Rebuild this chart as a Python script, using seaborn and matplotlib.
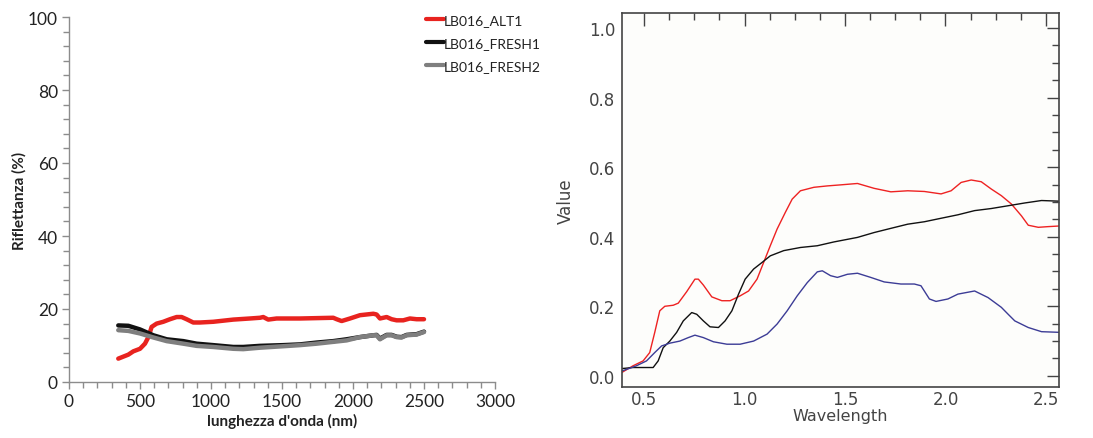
import numpy as np
import pandas as pd
import matplotlib
matplotlib.use("Agg")
import matplotlib.pyplot as plt
from matplotlib.ticker import MultipleLocator
import seaborn as sns

# ---------------- Left panel data (nm, %) ----------------
alt1_nm = [347, 418, 453, 500, 535, 559, 582, 617, 664, 711, 758, 793, 828, 875, 922, 1016,
           1157, 1274, 1345, 1368, 1403, 1462, 1626, 1861, 1885, 1920, 1979, 2049, 2143,
           2166, 2190, 2237, 2272, 2307, 2354, 2401, 2448, 2500]
alt1_pct = [6.4, 7.5, 8.4, 9.1, 10.5, 12.3, 15.1, 16.0, 16.5, 17.2, 17.8, 17.8, 17.2, 16.3, 16.3, 16.5,
            17.1, 17.4, 17.6, 17.8, 17.1, 17.4, 17.4, 17.6, 17.2, 16.7, 17.4, 18.3, 18.7,
            18.5, 17.4, 17.8, 17.2, 16.9, 16.9, 17.4, 17.2, 17.2]

fresh1_nm = [347, 418, 500, 594, 688, 805, 899, 1016, 1157, 1227, 1345, 1509, 1626, 1744,
             1861, 1955, 2049, 2143, 2166, 2190, 2237, 2272, 2307, 2342, 2378, 2448, 2500]
fresh1_pct = [15.5, 15.4, 14.4, 12.8, 11.7, 11.2, 10.5, 10.1, 9.6, 9.6, 9.9, 10.1, 10.3, 10.8,
              11.2, 11.7, 12.3, 12.8, 12.9, 11.9, 12.9, 12.9, 12.4, 12.3, 12.9, 13.1, 13.8]

fresh2_nm = [347, 418, 500, 594, 688, 805, 899, 1016, 1157, 1227, 1345, 1509, 1626, 1744,
             1861, 1955, 2049, 2143, 2166, 2190, 2237, 2272, 2307, 2342, 2378, 2448, 2500]
fresh2_pct = [14.2, 14.0, 13.3, 12.2, 11.2, 10.5, 9.9, 9.6, 9.1, 9.0, 9.4, 9.8, 10.1, 10.5,
              11.0, 11.4, 12.3, 12.8, 12.8, 11.7, 12.8, 12.8, 12.3, 12.2, 12.8, 13.0, 13.7]

left_labels = ["LB016_ALT1", "LB016_FRESH1", "LB016_FRESH2"]

# ---------------- Right panel data (µm, value) ----------------
red_wl = [0.39, 0.445, 0.495, 0.528, 0.553, 0.578, 0.603, 0.645, 0.67, 0.712, 0.753, 0.77, 0.795,
          0.837, 0.887, 0.928, 0.978, 1.02, 1.062, 1.095, 1.128, 1.162, 1.203, 1.237, 1.278,
          1.345, 1.412, 1.478, 1.562, 1.645, 1.728, 1.812, 1.895, 1.978, 2.028, 2.078, 2.128,
          2.178, 2.228, 2.278, 2.328, 2.378, 2.412, 2.462, 2.512, 2.573]
red_val = [0.01, 0.029, 0.043, 0.067, 0.125, 0.187, 0.2, 0.203, 0.209, 0.242, 0.278, 0.278, 0.261,
           0.227, 0.216, 0.216, 0.23, 0.244, 0.278, 0.326, 0.374, 0.422, 0.47, 0.508, 0.532,
           0.542, 0.546, 0.549, 0.553, 0.539, 0.529, 0.532, 0.53, 0.523, 0.532, 0.556, 0.563,
           0.558, 0.537, 0.518, 0.494, 0.46, 0.433, 0.427, 0.429, 0.431]

black_wl = [0.39, 0.445, 0.495, 0.545, 0.57, 0.595, 0.628, 0.662, 0.695, 0.737, 0.762, 0.795,
            0.828, 0.87, 0.903, 0.937, 0.97, 1.003, 1.045, 1.087, 1.128, 1.195, 1.278, 1.362,
            1.445, 1.562, 1.645, 1.728, 1.812, 1.895, 1.978, 2.062, 2.145, 2.228, 2.312, 2.395,
            2.478, 2.573]
black_val = [0.021, 0.024, 0.024, 0.024, 0.043, 0.081, 0.1, 0.125, 0.158, 0.182, 0.177, 0.158,
             0.141, 0.139, 0.158, 0.187, 0.235, 0.278, 0.307, 0.326, 0.345, 0.36, 0.369, 0.374,
             0.385, 0.398, 0.412, 0.424, 0.436, 0.443, 0.453, 0.463, 0.475, 0.481, 0.489, 0.497,
             0.504, 0.502]

blue_wl = [0.39, 0.462, 0.512, 0.553, 0.587, 0.628, 0.678, 0.72, 0.753, 0.795, 0.845, 0.912,
           0.978, 1.045, 1.112, 1.162, 1.212, 1.262, 1.312, 1.362, 1.387, 1.428, 1.462, 1.512,
           1.562, 1.628, 1.695, 1.778, 1.845, 1.878, 1.92, 1.953, 2.012, 2.062, 2.145, 2.212,
           2.278, 2.312, 2.345, 2.412, 2.478, 2.573]
blue_val = [0.014, 0.029, 0.043, 0.067, 0.086, 0.094, 0.1, 0.11, 0.117, 0.11, 0.098, 0.091,
            0.091, 0.1, 0.12, 0.149, 0.187, 0.23, 0.268, 0.299, 0.302, 0.288, 0.283, 0.292,
            0.295, 0.283, 0.27, 0.264, 0.264, 0.259, 0.221, 0.214, 0.221, 0.235, 0.244, 0.225,
            0.197, 0.177, 0.158, 0.139, 0.127, 0.125]

# ---------------- Build frames ----------------
left_df = pd.concat([
    pd.DataFrame({"nm": alt1_nm, "pct": alt1_pct, "serie": left_labels[0]}),
    pd.DataFrame({"nm": fresh1_nm, "pct": fresh1_pct, "serie": left_labels[1]}),
    pd.DataFrame({"nm": fresh2_nm, "pct": fresh2_pct, "serie": left_labels[2]}),
])
right_df = pd.concat([
    pd.DataFrame({"wl": red_wl, "val": red_val, "s": "red"}),
    pd.DataFrame({"wl": black_wl, "val": black_val, "s": "black"}),
    pd.DataFrame({"wl": blue_wl, "val": blue_val, "s": "blue"}),
])

sns.set_style("white")
plt.rcParams["font.family"] = ["Lato", "DejaVu Sans"]

fig = plt.figure(figsize=(10.93, 4.39), dpi=100)
fig.patch.set_facecolor("white")

# ---------------- Left panel ----------------
axL = fig.add_axes([69 / 1093, 1 - 383 / 439, 426 / 1093, 365 / 439])
left_palette = {left_labels[0]: "#e8231f", left_labels[1]: "#111111", left_labels[2]: "#7f7f7f"}
sns.lineplot(data=left_df, x="nm", y="pct", hue="serie", palette=left_palette,
             linewidth=3.2, sort=False, estimator=None, ax=axL)
axL.set_xlim(0, 3000)
axL.set_ylim(0, 100)
axL.xaxis.set_major_locator(MultipleLocator(500))
axL.xaxis.set_minor_locator(MultipleLocator(100))
axL.yaxis.set_major_locator(MultipleLocator(20))
axL.yaxis.set_minor_locator(MultipleLocator(4))
for s in ["top", "right"]:
    axL.spines[s].set_visible(False)
for s in ["left", "bottom"]:
    axL.spines[s].set_color("#8c8c8c")
    axL.spines[s].set_linewidth(1.0)
axL.tick_params(axis="both", which="major", direction="out", length=5, width=1,
                color="#8c8c8c", labelsize=12.5, labelcolor="#222222", pad=3)
axL.tick_params(axis="both", which="minor", direction="out", length=4, width=1, color="#8c8c8c")
axL.tick_params(axis="y", which="both", left=True)
axL.tick_params(axis="x", which="both", bottom=True)
axL.set_xlabel("lunghezza d'onda (nm)", fontsize=11, fontweight="bold", color="#222222", labelpad=3)
axL.set_ylabel("Riflettanza (%)", fontsize=11, fontweight="bold", color="#222222", labelpad=1)
leg = axL.legend(loc="upper left", bbox_to_anchor=(420 / 1093, 1 - 9 / 439),
                 bbox_transform=fig.transFigure, frameon=False, fontsize=10,
                 handlelength=1.3, handletextpad=0.0, labelspacing=0.8, borderaxespad=0)
for line in leg.get_lines():
    line.set_linewidth(3.0)
for t in leg.get_texts():
    t.set_color("#222222")

# ---------------- Right panel ----------------
axR = fig.add_axes([622 / 1093, 1 - 388 / 439, 437 / 1093, 374 / 439])
axR.set_facecolor("#fdfdfb")
right_palette = {"red": "#ee2222", "black": "#111111", "blue": "#3c3c96"}
sns.lineplot(data=right_df, x="wl", y="val", hue="s", palette=right_palette,
             linewidth=1.0, sort=False, estimator=None, legend=False, ax=axR)
axR.set_xlim(0.39, 2.565)
axR.set_ylim(-0.032, 1.043)
axR.xaxis.set_major_locator(MultipleLocator(0.5))
axR.xaxis.set_minor_locator(MultipleLocator(0.125))
axR.yaxis.set_major_locator(MultipleLocator(0.2))
axR.yaxis.set_minor_locator(MultipleLocator(0.05))
axR.xaxis.set_major_formatter(matplotlib.ticker.FormatStrFormatter("%.1f"))
axR.yaxis.set_major_formatter(matplotlib.ticker.FormatStrFormatter("%.1f"))
for s in axR.spines.values():
    s.set_color("#444444")
    s.set_linewidth(1.2)
axR.tick_params(axis="both", which="major", direction="in", length=9, width=1,
                color="#444444", top=True, right=True, labelsize=12,
                labelcolor="#444444", pad=5)
axR.tick_params(axis="x", which="major", pad=2)
axR.tick_params(axis="both", which="minor", direction="in", length=5, width=1,
                color="#444444", top=True, right=True)
for lab in axR.get_xticklabels() + axR.get_yticklabels():
    lab.set_fontfamily(["DejaVu Sans"])
axR.set_xlabel("Wavelength", fontsize=11.5, color="#444444", labelpad=0, family=["DejaVu Sans"])
axR.set_ylabel("Value", fontsize=12, color="#444444", labelpad=10, family=["DejaVu Sans"])

fig.savefig("out.png", dpi=100)
